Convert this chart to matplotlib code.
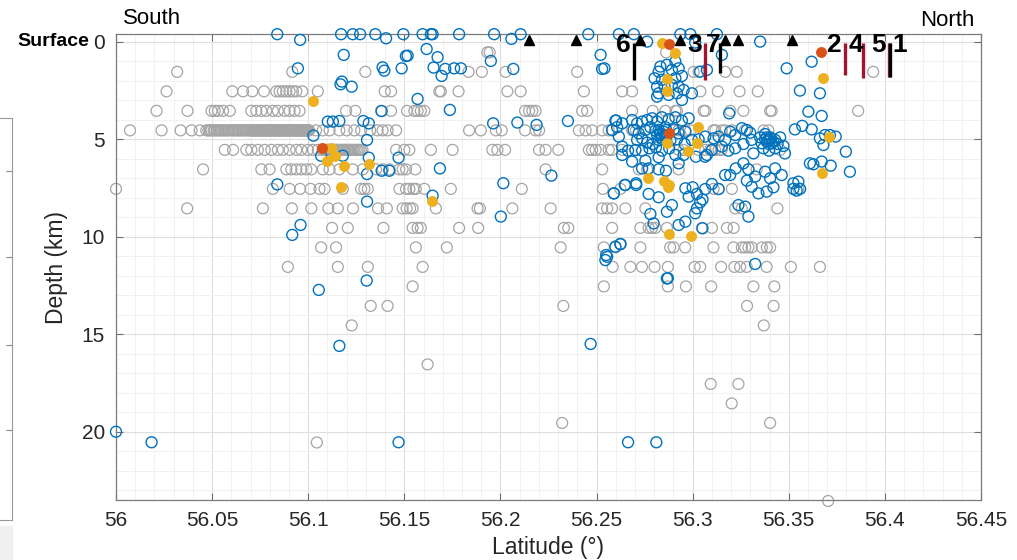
import matplotlib
matplotlib.use('Agg')
import matplotlib.pyplot as plt
from matplotlib.ticker import MultipleLocator

plt.rcParams['font.family'] = ['Liberation Sans', 'DejaVu Sans']

# relocated catalogue (grey), one list of latitudes per depth level
g_0 = [56.1932, 56.1944, 56.2862]
g_1 = [56.0318, 56.0917, 56.1297, 56.1834, 56.1903, 56.2027, 56.2399, 56.3005,
       56.3031, 56.3169, 56.3229, 56.3939]
g_2 = [56.0263, 56.0605, 56.0661, 56.0709, 56.0770, 56.0834, 56.0851, 56.0868,
       56.0886, 56.0903, 56.0920, 56.0938, 56.0969, 56.1050, 56.1398, 56.1431,
       56.1682, 56.1690, 56.1782, 56.2036, 56.2105, 56.2434, 56.2633, 56.2685,
       56.3040, 56.3131, 56.3244, 56.3339]
g_3 = [56.0211, 56.0372, 56.0497, 56.0514, 56.0531, 56.0557, 56.0592, 56.0704,
       56.0730, 56.0756, 56.0782, 56.0816, 56.0842, 56.0877, 56.0903, 56.0929,
       56.0955, 56.1197, 56.1245, 56.1379, 56.1431, 56.1514, 56.1552, 56.1569,
       56.1586, 56.1604, 56.2128, 56.2149, 56.2166, 56.2183, 56.2425, 56.2451,
       56.2685, 56.2792, 56.2858, 56.2910, 56.2918, 56.3057, 56.3066, 56.3196,
       56.3264, 56.3403, 56.3411, 56.3861]
g_4 = [56.0073, 56.0237, 56.0336, 56.0393, 56.0436,
       56.0470, 56.0481, 56.0489, 56.0497, 56.0508, 56.0515, 56.0524, 56.0532,
       56.0541, 56.0549, 56.0558, 56.0566, 56.0575, 56.0583, 56.0590, 56.0601,
       56.0609, 56.0617, 56.0626, 56.0634, 56.0642, 56.0651, 56.0659, 56.0668,
       56.0676, 56.0685, 56.0693, 56.0702, 56.0706, 56.0710, 56.0714, 56.0718,
       56.0723, 56.0727, 56.0731, 56.0735, 56.0740, 56.0744, 56.0748, 56.0752,
       56.0757, 56.0761, 56.0765, 56.0769, 56.0774, 56.0778, 56.0782, 56.0786,
       56.0790, 56.0794, 56.0799, 56.0803, 56.0807, 56.0811, 56.0816, 56.0820,
       56.0824, 56.0828, 56.0833, 56.0837, 56.0841, 56.0845, 56.0850, 56.0854,
       56.0858, 56.0862, 56.0866, 56.0870, 56.0875, 56.0879, 56.0883, 56.0887,
       56.0892, 56.0896, 56.0900, 56.0904, 56.0909, 56.0913, 56.0917, 56.0921,
       56.0926, 56.0930, 56.0934, 56.0938, 56.0942, 56.0946, 56.0951, 56.0955,
       56.0959, 56.0963, 56.0968, 56.0972, 56.0976, 56.0980, 56.0985, 56.0989,
       56.0993, 56.0997, 56.1001, 56.1005,
       56.1041, 56.1076, 56.1111, 56.1162, 56.1200, 56.1240, 56.1275, 56.1322,
       56.1361, 56.1387, 56.1413, 56.1457,
       56.1837, 56.1898, 56.1976, 56.2007, 56.2128, 56.2183, 56.2201, 56.2408,
       56.2443, 56.2477, 56.2529, 56.2563, 56.2580, 56.2685, 56.2705, 56.2901,
       56.2927, 56.2962, 56.2988, 56.3108, 56.3118, 56.3151, 56.3169, 56.3204,
       56.3272, 56.3369, 56.3394]
g_5 = [56.0566, 56.0609, 56.0678, 56.0704, 56.0738, 56.0773, 56.0808, 56.0842,
       56.0868, 56.0903, 56.0938, 56.0964, 56.0998, 56.1024, 56.1050,
       56.1074, 56.1083, 56.1091, 56.1100, 56.1108, 56.1117, 56.1126, 56.1134,
       56.1143, 56.1152, 56.1160, 56.1169, 56.1178, 56.1186, 56.1195, 56.1204,
       56.1212, 56.1221, 56.1230, 56.1238, 56.1247, 56.1256, 56.1264, 56.1273,
       56.1282, 56.1457, 56.1500, 56.1526, 56.1638, 56.1751, 56.1958, 56.1984,
       56.2024, 56.2201, 56.2235, 56.2301, 56.2460, 56.2477, 56.2495, 56.2521,
       56.2563, 56.2580, 56.2633, 56.2702, 56.2927, 56.2953, 56.3030, 56.3066,
       56.3091, 56.3117, 56.3135, 56.3151, 56.3455]
g_6 = [56.0453, 56.0756, 56.0799, 56.0886, 56.0912, 56.0938, 56.0964, 56.0990,
       56.1016, 56.1076, 56.1111, 56.1162, 56.1232, 56.1284, 56.1353, 56.1388,
       56.1422, 56.1474, 56.1491, 56.1509, 56.1557, 56.2235, 56.2529, 56.2720,
       56.2763, 56.2927, 56.3290, 56.3333]
g_7 = [56.0000, 56.0816, 56.0903, 56.0958, 56.1012, 56.1059, 56.1085, 56.1180,
       56.1275, 56.1292, 56.1310, 56.1474, 56.1509, 56.1526, 56.1547, 56.1560,
       56.1604, 56.1742, 56.2111, 56.2533, 56.2624, 56.3109, 56.3135, 56.3204,
       56.3550]
g_8 = [56.0370, 56.0764, 56.0915, 56.1016, 56.1105, 56.1154, 56.1233, 56.1363,
       56.1409, 56.1491, 56.1512, 56.1530, 56.1543, 56.1664, 56.1881, 56.1893,
       56.2062, 56.2261, 56.2529, 56.2555, 56.2581, 56.2650, 56.2754, 56.3221,
       56.3255, 56.3441]
g_9 = [56.1124, 56.1206, 56.1391, 56.1543, 56.1569, 56.1586, 56.1785, 56.1884,
       56.2330, 56.2353, 56.2581, 56.2728, 56.2771, 56.2789, 56.2806, 56.2866,
       56.3048, 56.3100, 56.3178, 56.3213]
g_10 = [56.1067, 56.1145, 56.1560, 56.1721, 56.2313, 56.2538, 56.2598, 56.2728,
        56.2883, 56.2901, 56.2961, 56.3108, 56.3212, 56.3256, 56.3273, 56.3290,
        56.3307, 56.3360, 56.3386, 56.3403]
g_11 = [56.0894, 56.1154, 56.1310, 56.1595, 56.2584, 56.2676, 56.2736, 56.2802,
        56.2871, 56.3010, 56.3039, 56.3148, 56.3217, 56.3247, 56.3281, 56.3385,
        56.3511, 56.3662]
g_12 = [56.1543, 56.2538, 56.2871, 56.2965, 56.3096, 56.3316, 56.3425]
g_13 = [56.1325, 56.1413, 56.2327, 56.3283, 56.3421]
g_14 = [56.1226, 56.3370]
g_16 = [56.1621]
g_17 = [56.3094, 56.3238]
g_18 = [56.3203]
g_19 = [56.2321, 56.3403]
g_20 = [56.1045]
g_23 = [56.3705]
grey_levels = [(0.55, g_0), (1.55, g_1), (2.55, g_2), (3.55, g_3), (4.55, g_4),
               (5.55, g_5), (6.55, g_6), (7.55, g_7), (8.55, g_8), (9.55, g_9),
               (10.55, g_10), (11.55, g_11), (12.55, g_12), (13.55, g_13),
               (14.55, g_14), (16.55, g_16), (17.55, g_17), (18.55, g_18),
               (19.55, g_19), (20.55, g_20), (23.55, g_23)]

# new detections (blue), (latitude, depth km)
blue_events = [
    # shallowest, on the surface line
    (56.0839, -0.38), (56.1171, -0.38), (56.1232, -0.38), (56.1270, -0.38),
    (56.1349, -0.38), (56.1495, -0.38), (56.1595, -0.38), (56.1638, -0.38),
    (56.1647, -0.38), (56.1785, -0.38), (56.1967, -0.38), (56.2105, -0.38),
    (56.2457, -0.38), (56.2616, -0.38), (56.2694, -0.38), (56.2936, -0.38),
    (56.2988, -0.38), (56.3126, -0.38),
    (56.0958, -0.09), (56.1405, -0.17), (56.2057, -0.14), (56.2763, 0.00),
    (56.3013, 0.05), (56.3351, 0.00),
    # southern part
    (56.1185, 0.68), (56.1508, 0.74), (56.0946, 1.37), (56.1387, 1.32),
    (56.1396, 1.49), (56.1486, 1.37), (56.1175, 2.05), (56.1168, 2.19),
    (56.1226, 2.31), (56.1382, 3.56), (56.1102, 4.10), (56.1128, 4.10),
    (56.1162, 4.07), (56.1287, 4.07), (56.1315, 4.19), (56.1027, 4.82),
    (56.1306, 5.04), (56.1067, 5.85), (56.1180, 5.85), (56.1315, 5.95),
    (56.1470, 5.95), (56.1306, 6.79), (56.1382, 6.62), (56.1422, 6.62),
    (56.0839, 7.32), (56.1306, 8.20), (56.0960, 9.40), (56.0917, 9.91),
    (56.1616, 0.38), (56.1517, 0.72), (56.1673, 0.80), (56.1950, 0.99),
    (56.2521, 0.68), (56.1652, 1.33), (56.1713, 1.40), (56.1759, 1.37),
    (56.1794, 1.37), (56.1694, 1.76), (56.2067, 1.40), (56.2529, 1.40),
    (56.2541, 1.37), (56.1569, 2.94), (56.1737, 3.50), (56.1962, 4.19),
    (56.2088, 4.15), (56.2188, 4.27), (56.2351, 4.07), (56.2602, 4.05),
    (56.1685, 6.50), (56.2265, 6.87), (56.2015, 7.26), (56.1647, 7.90),
    (56.2002, 8.97), (56.2590, 7.78), (56.2647, 7.35), (56.2706, 7.35),
    (56.2550, 10.94), (56.2624, 10.38),
    # deep events
    (56.1304, 12.25), (56.1055, 12.73), (56.1162, 15.60), (56.0000, 20.00),
    (56.0185, 20.54), (56.1470, 20.54), (56.2871, 12.13), (56.2469, 15.50),
    (56.2664, 20.54), (56.2811, 20.54), (56.2546, 11.20), (56.3325, 11.40),
    # shallow cluster near 56.29
    (56.2832, 1.28), (56.2866, 1.19), (56.2823, 1.54), (56.2892, 1.45),
    (56.2927, 1.37), (56.2802, 1.88), (56.2840, 1.96), (56.2910, 1.88),
    (56.2944, 1.76), (56.2815, 2.31), (56.2854, 2.31), (56.2892, 2.22),
    (56.2927, 2.31), (56.2823, 2.65), (56.2875, 2.73), (56.2918, 2.65),
    (56.2953, 2.48), (56.2944, 2.99), (56.2815, 2.82), (56.2910, 1.02),
    (56.2996, 2.65), (56.3039, 1.54), (56.3074, 1.45),
    # main cluster near 56.285, 5 km
    (56.2598, 4.05), (56.2633, 4.19), (56.2685, 4.02), (56.2711, 4.19),
    (56.2737, 4.10), (56.2763, 4.02), (56.2789, 3.93), (56.2815, 4.10),
    (56.2840, 3.88), (56.2875, 3.98), (56.2910, 3.88), (56.2944, 4.05),
    (56.2979, 3.93), (56.2693, 4.53), (56.2719, 4.70), (56.2754, 4.53),
    (56.2780, 4.39), (56.2806, 4.56), (56.2832, 4.74), (56.2858, 4.39),
    (56.2901, 4.50), (56.2927, 4.70), (56.2962, 4.62), (56.2711, 5.04),
    (56.2737, 4.96), (56.2763, 5.18), (56.2792, 5.25), (56.2823, 5.04),
    (56.2854, 4.91), (56.2884, 5.08), (56.2918, 5.01), (56.2958, 5.25),
    (56.2996, 5.04), (56.3031, 5.01), (56.3065, 4.87), (56.2633, 5.38),
    (56.2664, 5.59), (56.2702, 5.56), (56.2737, 5.59), (56.2775, 5.47),
    (56.2809, 5.42), (56.2840, 5.59), (56.2878, 5.47), (56.2910, 5.81),
    (56.2953, 5.81), (56.3017, 5.90), (56.3065, 5.90), (56.2685, 6.15),
    (56.2754, 6.10), (56.2823, 5.93), (56.2927, 6.24), (56.2633, 5.81),
    (56.2832, 4.70), (56.2849, 4.62), (56.2840, 4.79), (56.2823, 4.53),
    (56.2858, 4.79), (56.2837, 4.91), (56.2861, 4.53), (56.2815, 4.79),
    (56.2607, 4.39), (56.2581, 4.53), (56.2616, 4.87),
    # band between the clusters
    (56.3109, 4.96), (56.3135, 4.87), (56.3169, 5.04), (56.3195, 4.62),
    (56.3221, 4.79), (56.3256, 4.44), (56.3282, 4.53), (56.3299, 4.67),
    (56.3152, 5.38), (56.3186, 5.59), (56.3221, 5.47), (56.3264, 5.25),
    (56.3307, 5.04), (56.3100, 5.56), (56.3074, 5.81),
    # cluster near 56.34, 5 km
    (56.3351, 4.91), (56.3377, 4.74), (56.3403, 4.91), (56.3429, 5.04),
    (56.3455, 4.91), (56.3359, 5.21), (56.3385, 5.13), (56.3411, 5.21),
    (56.3442, 5.25), (56.3472, 5.35), (56.3368, 5.47), (56.3397, 5.59),
    (56.3429, 5.47), (56.3377, 5.01), (56.3394, 5.04), (56.3408, 4.97),
    (56.3385, 4.91), (56.3420, 5.13), (56.3397, 5.25), (56.3480, 5.73),
    (56.3316, 5.73),
    # deeper spread below the clusters
    (56.2737, 6.50), (56.2771, 6.50), (56.2823, 6.55), (56.2861, 6.62),
    (56.2650, 7.35), (56.2706, 7.26), (56.2590, 7.78), (56.2771, 7.81),
    (56.2823, 7.98), (56.2962, 7.52), (56.3000, 7.47), (56.3022, 7.81),
    (56.3051, 8.09), (56.3065, 7.56), (56.3100, 7.30), (56.3135, 7.56),
    (56.3169, 6.84), (56.3195, 6.84), (56.3224, 6.50), (56.3264, 6.24),
    (56.3290, 6.55), (56.3325, 6.92), (56.3282, 7.13), (56.3307, 7.44),
    (56.3377, 6.67), (56.3403, 7.01), (56.3429, 6.50), (56.3463, 6.84),
    (56.3420, 7.47), (56.3385, 7.69), (56.3342, 7.78), (56.3524, 7.26),
    (56.3541, 7.64), (56.3238, 8.38), (56.3273, 8.46), (56.3290, 8.97),
    (56.3013, 8.80), (56.3022, 8.55), (56.3039, 8.24), (56.2979, 7.95),
    (56.2892, 8.38), (56.2866, 8.72), (56.2780, 8.84), (56.2797, 9.32),
    (56.2927, 9.40), (56.2962, 9.23), (56.3051, 9.57), (56.2624, 10.38),
    (56.2598, 10.51), (56.2555, 11.03), (56.2866, 12.14),
    # northern part
    (56.3532, 4.50), (56.3570, 4.32), (56.3619, 4.50), (56.3602, 3.59),
    (56.3671, 3.81), (56.3558, 2.51), (56.3662, 2.65), (56.3489, 1.37),
    (56.3619, 1.03), (56.3190, 3.68), (56.3152, 0.68),
    (56.3662, 4.96), (56.3688, 4.79), (56.3714, 4.79), (56.3744, 4.87),
    (56.3680, 5.30), (56.3797, 5.64), (56.3818, 6.67), (56.3610, 6.24),
    (56.3628, 6.29), (56.3671, 6.15), (56.3718, 6.36), (56.3550, 7.18),
    (56.3524, 7.55), (56.3559, 7.55),
]

# yellow and red-orange highlighted events, (latitude, depth km)
yellow_events = [
    (56.1024, 3.04), (56.1119, 5.47), (56.1137, 5.85), (56.1097, 6.12),
    (56.1185, 6.36), (56.1315, 6.29), (56.1168, 7.44), (56.1644, 8.15),
    (56.2840, 0.08), (56.2906, 0.60), (56.2866, 1.93), (56.2866, 2.51),
    (56.3026, 4.39), (56.3022, 5.18), (56.2975, 5.59), (56.2866, 5.18),
    (56.2766, 7.01), (56.2849, 7.14), (56.2875, 7.35), (56.2872, 7.43),
    (56.2875, 9.86), (56.2993, 9.95), (56.3679, 1.88), (56.3711, 4.87),
    (56.3671, 6.75),
]
red_events = [(56.1071, 5.47), (56.2875, 0.10), (56.2875, 4.67), (56.3668, 0.51)]

# stations on the surface
station_lat = [56.2149, 56.2391, 56.2728, 56.2936, 56.3166, 56.3235, 56.3515]

# numbered sites: label, latitude, bottom depth, colour
site_labels = ['6', '3', '7', '2', '4', '5', '1']
site_label_lat = [56.2641, 56.3013, 56.3108, 56.3731, 56.3847, 56.3965, 56.4077]
site_bar_lat = [56.2693, 56.3062, 56.3143, 56.3792, 56.3887, 56.4022, 56.4027]
site_bar_bottom = [1.96, 1.96, 1.62, 1.71, 1.85, 1.79, 1.79]
site_bar_color = ['k', '#a2142f', 'k', '#a2142f', '#a2142f', '#a2142f', 'k']

W, H = 1017, 560
fig = plt.figure(figsize=(W / 100, H / 100), dpi=100)
ax = fig.add_axes([116 / W, 1 - 500 / H, 865 / W, 466 / H])

ms = 62
for dep, lats in grey_levels:
    ax.scatter(lats, [dep] * len(lats), s=ms, facecolors='none',
               edgecolors='#a5a5a5', linewidths=0.9, clip_on=False, zorder=2)

ax.scatter([e[0] for e in blue_events], [e[1] for e in blue_events], s=ms,
           facecolors='none', edgecolors='#0072bd', linewidths=1.0,
           clip_on=False, zorder=3)
ax.scatter([e[0] for e in yellow_events], [e[1] for e in yellow_events], s=ms,
           color='#edb120', linewidths=0, clip_on=False, zorder=4)
ax.scatter([e[0] for e in red_events], [e[1] for e in red_events], s=ms,
           color='#d95319', linewidths=0, clip_on=False, zorder=5)

ax.plot(station_lat, [-0.1] * len(station_lat), '^', color='k', ms=7.5,
        clip_on=False, zorder=6)

for lab, tlat, blat, bot, col in zip(site_labels, site_label_lat, site_bar_lat,
                                     site_bar_bottom, site_bar_color):
    ax.plot([blat, blat], [0.08, bot], color=col, lw=2.4,
            solid_capstyle='butt', zorder=7)
    ax.text(tlat, 0.17, lab, ha='center', va='center', fontsize=19,
            fontweight='bold', zorder=8)

ax.set_xlim(56, 56.45)
ax.set_ylim(23.5, -0.39)
ax.set_xticks([56 + 0.05 * i for i in range(10)])
ax.set_xticklabels(['56', '56.05', '56.1', '56.15', '56.2', '56.25', '56.3',
                    '56.35', '56.4', '56.45'])
ax.set_yticks([0, 5, 10, 15, 20])
ax.xaxis.set_minor_locator(MultipleLocator(0.01))
ax.yaxis.set_minor_locator(MultipleLocator(1))
ax.grid(which='major', color='#dedede', lw=0.8)
ax.grid(which='minor', color='#efefef', lw=0.6)
ax.set_axisbelow(True)
ax.tick_params(which='major', direction='in', length=5, width=0.8,
               colors='#6e6e6e', labelcolor='#262626', labelsize=15,
               top=True, right=True, pad=8)
ax.tick_params(which='minor', length=0, top=True, right=True)
for sp in ax.spines.values():
    sp.set_color('#7a7a7a')
    sp.set_linewidth(0.9)

ax.set_xlabel('Latitude (°)', fontsize=16.5, color='#262626', labelpad=4)
ax.set_ylabel('Depth (km)', fontsize=16.5, color='#262626', labelpad=10)

fig.text(123 / W, 1 - 18 / H, 'South', fontsize=16, ha='left', va='center')
fig.text(975 / W, 1 - 20 / H, 'North', fontsize=16, ha='right', va='center')
fig.text(17 / W, 1 - 42 / H, 'Surface', fontsize=14, fontweight='bold',
         ha='left', va='center')

# edge of the neighbouring panel
side = fig.add_axes([-0.1, 1 - 520 / H, 0.1 + 12 / W, 402 / H])
side.set_xlim(0, 1)
side.set_ylim(0, 402)
side.set_xticks([])
side.set_yticks([349, 263, 175, 90])
side.yaxis.tick_right()
side.tick_params(direction='in', length=4, colors='#8a8a8a', labelright=False)
for sp in side.spines.values():
    sp.set_color('#9a9a9a')
    sp.set_linewidth(0.8)
fig.patches.append(plt.Rectangle((0, 0), 12 / W, 34 / H, transform=fig.transFigure,
                                 color='#f0f0f0', zorder=0))

fig.savefig('out.png', dpi=100)
